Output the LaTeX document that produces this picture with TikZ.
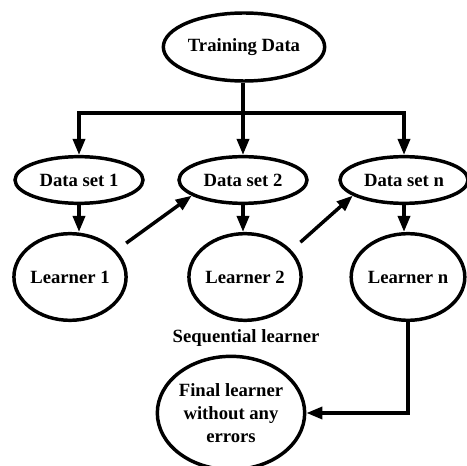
\documentclass[tikz,border=0pt]{standalone}
\usepackage{fontspec}
\setmainfont{Liberation Serif}
\usetikzlibrary{shapes.geometric,arrows.meta}

\begin{document}
\begin{tikzpicture}[x=0.75pt, y=-0.75pt, line width=2.6pt,
    font=\fontsize{14}{17}\selectfont\bfseries]
  \tikzset{
    blob/.style={ellipse, draw, inner sep=0pt},
    feed/.style={-{Triangle[length=12pt, width=9pt]}},
  }
  \useasboundingbox (0,0) rectangle (467,466);

  % source and the three data sets
  \node[blob, minimum width=121pt, minimum height=51pt] (train) at (244,47) {Training Data};
  \node[blob, minimum width=96pt, minimum height=35pt] (ds1) at (79,180)  {Data set 1};
  \node[blob, minimum width=96pt, minimum height=35pt] (ds2) at (243,180) {Data set 2};
  \node[blob, minimum width=96pt, minimum height=35pt] (dsn) at (404,180) {Data set n};

  % learners
  \node[blob, minimum width=74pt, minimum height=65pt] (l1) at (70,277)  {Learner 1};
  \node[blob, minimum width=74pt, minimum height=65pt] (l2) at (245,277) {Learner 2};
  \node[blob, minimum width=74pt, minimum height=65pt] (ln) at (408,277) {Learner n};

  \node (seq) at (246,338) {Sequential learner};
  \node[blob, minimum width=94pt, minimum height=85pt, align=center] (final) at (231,413)
    {Final learner\\without any\\errors};

  % split the training data
  \coordinate (split) at (243,113);
  \draw (train.south -| split) -- (split);
  \foreach \d in {ds1,ds2,dsn}
    \draw[feed] (split) -| (\d.north);

  % data set to learner
  \foreach \d/\l in {ds1/l1,ds2/l2,dsn/ln}
    \draw[feed] (\d.south) -- (\d.south |- \l.north);

  % each learner feeds the next data set
  \draw[feed, shorten <=9pt] (l1.30) -- (ds2.197);
  \draw[feed, shorten <=9pt] (l2.30) -- (dsn.197);

  \draw[feed] (ln.south) |- (final.east);
\end{tikzpicture}
\end{document}
